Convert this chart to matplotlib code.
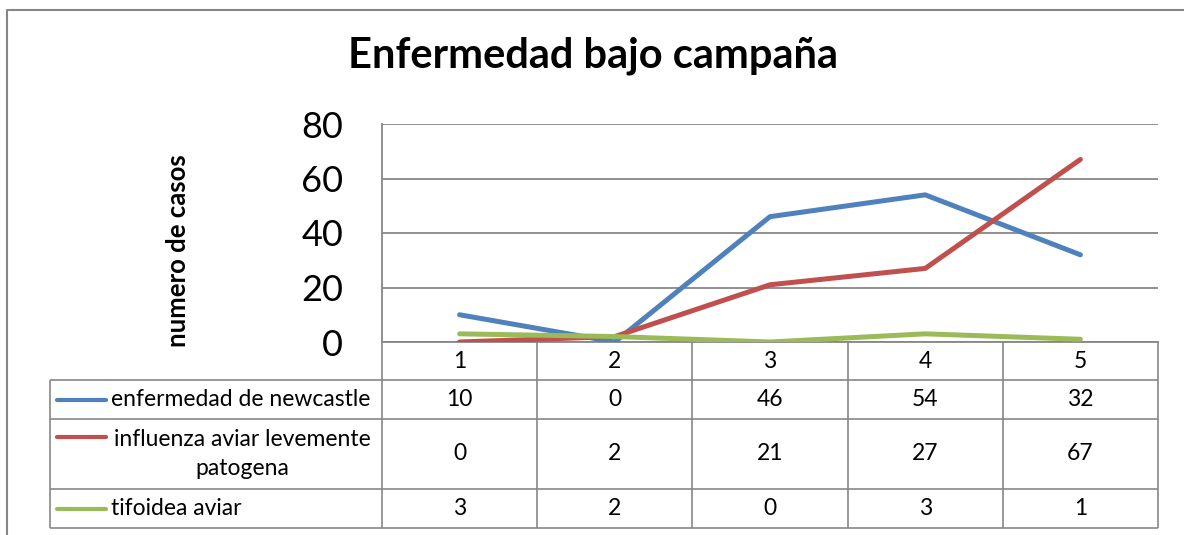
import matplotlib
matplotlib.use("Agg")
import matplotlib.pyplot as plt

categories = ["1", "2", "3", "4", "5"]
series_names = ["enfermedad de newcastle", "influenza aviar levemente\npatogena", "tifoidea aviar"]
newcastle = [10, 0, 46, 54, 32]
influenza = [0, 2, 21, 27, 67]
tifoidea = [3, 2, 0, 3, 1]
series_values = [newcastle, influenza, tifoidea]
colors = ["#4F81BD", "#C0504D", "#9BBB59"]
yticks = [0, 20, 40, 60, 80]
title = "Enfermedad bajo campaña"
ylabel = "numero de casos"

W, H = 1184, 535
plt.rcParams['font.family'] = ['Lato', 'DejaVu Sans']
fig = plt.figure(figsize=(W / 100, H / 100), dpi=100)

# full-figure overlay in pixel coordinates (for frame and table)
ov = fig.add_axes([0, 0, 1, 1])
ov.set_xlim(0, W)
ov.set_ylim(H, 0)
ov.axis("off")

grid_c = "#878787"
# outer chart border
ov.plot([7, 7, W], [H, 10, 10], color=grid_c, lw=1.5, solid_capstyle="butt")

# plot area
px0, px1, py0, py1 = 382, 1158, 124, 342
ax = fig.add_axes([px0 / W, 1 - py1 / H, (px1 - px0) / W, (py1 - py0) / H])
x = list(range(1, len(categories) + 1))
for vals, c in zip(series_values, colors):
    ax.plot(x, vals, color=c, lw=3.6, solid_capstyle="round", solid_joinstyle="round", zorder=3)
ax.set_xlim(0.5, len(categories) + 0.5)
ax.set_ylim(0, 80)
ax.set_yticks(yticks)
ax.set_yticklabels([str(v) for v in yticks], fontsize=26)
ax.tick_params(axis="y", length=0, pad=28)
ax.set_xticks([])
ax.grid(axis="y", color=grid_c, lw=1.3)
ax.set_axisbelow(True)
for s in ["top", "right"]:
    ax.spines[s].set_visible(False)
ax.spines["left"].set_color(grid_c)
ax.spines["left"].set_linewidth(1.3)
ax.spines["bottom"].set_color(grid_c)
ax.spines["bottom"].set_linewidth(1.3)

fig.text(593 / W, 1 - 56 / H, title, fontsize=30, fontweight="bold", ha="center", va="center")
fig.text(178 / W, 1 - 251 / H, ylabel, fontsize=18.5, fontweight="bold", rotation=90, ha="center", va="center")

# data table
tl = 50
col_w = (px1 - px0) / len(categories)
col_edges = [px0 + i * col_w for i in range(len(categories) + 1)]
row_edges = [342, 380, 419, 489, 528]
lc = dict(color=grid_c, lw=1.2, solid_capstyle="butt")
for xe in col_edges:
    ov.plot([xe, xe], [row_edges[0], row_edges[-1]], **lc)
ov.plot([tl, tl], [row_edges[1], row_edges[-1]], **lc)
for ye in row_edges[1:]:
    ov.plot([tl, px1], [ye, ye], **lc)

fs = 16.5
for i, cat in enumerate(categories):
    cx = px0 + (i + 0.5) * col_w
    ov.text(cx, (row_edges[0] + row_edges[1]) / 2, cat, fontsize=fs, ha="center", va="center")

for r, (name, vals, c) in enumerate(zip(series_names, series_values, colors)):
    yc = (row_edges[r + 1] + row_edges[r + 2]) / 2
    for i, v in enumerate(vals):
        cx = px0 + (i + 0.5) * col_w
        ov.text(cx, yc, str(v), fontsize=fs, ha="center", va="center")
    if "\n" in name:
        ly = row_edges[r + 1] + 18
        ov.text(242, yc, name, fontsize=fs, ha="center", va="center", multialignment="center", linespacing=1.5)
    else:
        ly = yc
        ov.text(111, yc, name, fontsize=fs, ha="left", va="center")
    ov.plot([57, 106], [ly, ly], color=c, lw=3.0, solid_capstyle="round")

fig.savefig("out.png", dpi=100, facecolor="white")
